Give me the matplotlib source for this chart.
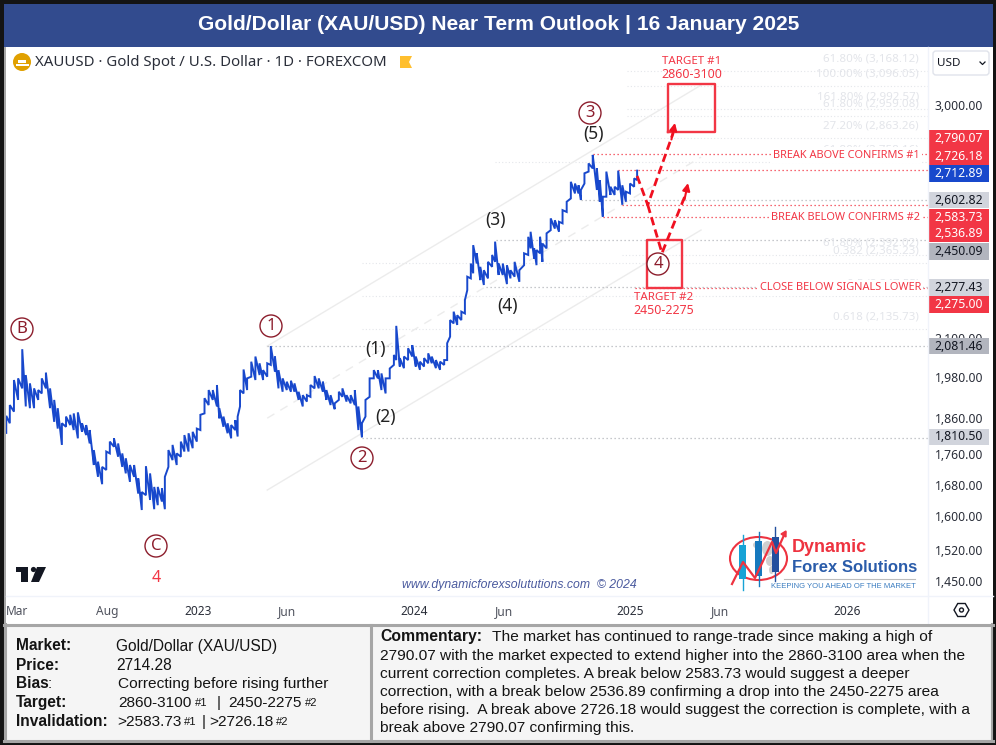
import datetime as dt
import matplotlib
matplotlib.use('Agg')
import matplotlib.pyplot as plt
import matplotlib.dates as mdates
import matplotlib.patches as mpatches
import matplotlib.transforms as mtrans
from matplotlib.ticker import NullLocator
import numpy as np

# Price bars (days counted from 1 Jan 2023)
bar_days = [-324, -318, -311, -304, -297, -291, -284, -277, -270, -264, -257, -250, -243, -237, -230, -223,
            -216, -210, -203, -196, -189, -183, -176, -169, -162, -155, -149, -142, -135, -128, -122, -115,
            -108, -101, -95, -88, -81, -74, -68, -61, -56, -50, -43, -36, -29, -23, -16, -9, -2, 4, 11, 18,
            25, 32, 36, 43, 50, 56, 63, 67, 71, 77, 83, 90, 97, 104, 110, 117, 123, 130, 136, 143, 150, 157,
            163, 170, 177, 184, 190, 197, 204, 211, 217, 224, 231, 238, 244, 251, 258, 265, 271, 277, 283,
            290, 297, 304, 310, 317, 324, 331, 335, 341, 348, 355, 362, 368, 375, 382, 389, 395, 402, 409,
            416, 421, 426, 432, 438, 445, 451, 455, 461, 465, 471, 477, 483, 490, 497, 502, 508, 515, 522,
            528, 535, 543, 551, 558, 562, 568, 572, 578, 582, 589, 596, 603, 610, 616, 623, 630, 637, 643,
            647, 653, 660, 667, 674, 679, 684, 690, 697, 704, 710, 717, 723, 730, 737, 742]
bar_lows = [1818, 1845, 1878, 1912, 1946, 1893, 1888, 1888, 1912, 1931, 1946, 1888, 1849, 1830, 1785, 1835,
            1840, 1826, 1803, 1821, 1812, 1789, 1731, 1700, 1681, 1718, 1762, 1780, 1753, 1726, 1709, 1687,
            1700, 1657, 1616, 1653, 1641, 1618, 1628, 1637, 1618, 1726, 1744, 1731, 1753, 1767, 1767, 1776,
            1794, 1826, 1873, 1897, 1912, 1893, 1859, 1835, 1817, 1803, 1826, 1808, 1893, 1931, 1941, 1981,
            1971, 1986, 1971, 1981, 2017, 1996, 1946, 1936, 1941, 1936, 1936, 1912, 1893, 1907, 1921, 1946,
            1946, 1936, 1912, 1897, 1885, 1912, 1921, 1907, 1902, 1897, 1826, 1806, 1864, 1921, 1976, 1976,
            1941, 1931, 1976, 2017, 2032, 2012, 2007, 2032, 2043, 2012, 2002, 2012, 2022, 2022, 2007, 2002,
            2017, 2032, 2106, 2149, 2144, 2160, 2182, 2261, 2302, 2320, 2355, 2296, 2279, 2302, 2343, 2361,
            2314, 2314, 2282, 2302, 2308, 2290, 2349, 2386, 2410, 2373, 2349, 2392, 2361, 2410, 2478, 2484,
            2472, 2504, 2548, 2601, 2621, 2621, 2595, 2661, 2710, 2723, 2635, 2588, 2530, 2608, 2615, 2615,
            2635, 2576, 2588, 2621, 2648, 2675]
bar_highs = [1866, 1897, 1971, 1976, 2066, 1986, 1961, 1946, 1941, 1976, 1993, 1946, 1912, 1888, 1845, 1864,
             1869, 1873, 1876, 1845, 1840, 1826, 1771, 1740, 1726, 1767, 1794, 1803, 1789, 1762, 1749, 1731,
             1731, 1696, 1661, 1728, 1709, 1674, 1674, 1670, 1700, 1771, 1785, 1762, 1794, 1812, 1817, 1821,
             1830, 1869, 1917, 1941, 1941, 1956, 1888, 1864, 1845, 1840, 1854, 1864, 1941, 2003, 1976, 2027,
             2043, 2022, 2001, 2022, 2076, 2043, 2001, 1976, 1966, 1969, 1961, 1936, 1926, 1926, 1956, 1983,
             1976, 1966, 1941, 1926, 1902, 1936, 1946, 1926, 1926, 1941, 1893, 1845, 1912, 1976, 2001, 2001,
             1991, 1976, 2006, 2048, 2141, 2038, 2043, 2069, 2079, 2043, 2027, 2038, 2053, 2043, 2032, 2027,
             2032, 2085, 2160, 2188, 2176, 2188, 2227, 2308, 2355, 2422, 2392, 2343, 2331, 2361, 2386, 2435,
             2355, 2355, 2349, 2331, 2361, 2331, 2392, 2453, 2472, 2410, 2404, 2453, 2428, 2466, 2523, 2516,
             2510, 2555, 2588, 2668, 2661, 2654, 2635, 2703, 2744, 2780, 2723, 2675, 2608, 2710, 2648, 2648,
             2714, 2654, 2628, 2661, 2682, 2714]
read_correction = 1.003  # bars were read against the 3,000 label, which sits 2px above its true level

y_ticks = [3000, 2100, 1980, 1860, 1760, 1680, 1600, 1520, 1450]
x_tick_dates = ['2022-03-01', '2022-08-01', '2023-01-01', '2023-06-01', '2024-01-01',
                '2024-06-01', '2025-01-01', '2025-06-01', '2026-01-01']
x_tick_labels = ['Mar', 'Aug', '2023', 'Jun', '2024', 'Jun', '2025', 'Jun', '2026']

# Level lines: price, first day
red_levels = [2790.07, 2726.18, 2583.73, 2536.89, 2275.00]
red_starts = [667, 710, 717, 684, 738]
grey_levels = [2602.82, 2450.09, 2277.43, 2081.46, 1810.50]
grey_starts = [648, 504, 487, 117, 277]
fib_levels = [3168.12, 3096.05, 2992.57, 2959.08, 2863.26, 2758.16, 2392.02, 2365.23, 2247.55, 2135.73]
fib_names = ['61.80%', '100.00%', '161.80%', '61.80%', '27.20%', '61.80%', '61.80%', '0.382', '0.5', '0.618']
fib_starts = [725, 725, 725, 725, 725, 502, 716, 277, 277, 277]

# Channel lines: day, price at both ends
channel_days = [117, 850]
channel_upper = [2082, 3102]
channel_mid = [1865, 2779]
channel_lower = [1671, 2486]

# Projected paths
path1_days = [742, 760, 806]
path1_prices = [2700, 2583, 2928]
path2_days = [760, 784, 828]
path2_prices = [2583, 2400, 2671]

# Target zones: first day, last day, low, high
target1 = [794, 874, 2888, 3105]
target2 = [759, 818, 2275, 2450]

# Price labels on the right scale (value, fill, text colour)
axis_labels = [(2790.07, '#f23645', 'white'), (2726.18, '#f23645', 'white'), (2712.89, '#1848cc', 'white'),
               (2602.82, '#d1d4dc', '#131722'), (2583.73, '#f23645', 'white'), (2536.89, '#f23645', 'white'),
               (2450.09, '#b2b5be', '#131722'), (2277.43, '#d1d4dc', '#131722'), (2275.00, '#f23645', 'white'),
               (2081.46, '#b2b5be', '#131722'), (1810.50, '#d1d4dc', '#131722')]
axis_label_tops = [130, 147, 165, 192, 209, 225, 243, 279, 296, 338, 429]
axis_label_heights = [17, 18, 17, 16, 17, 17, 17, 17, 17, 16, 16]

RED = '#f23645'
DARKRED = '#8c1d2c'
TV_FONT = 'Noto Sans'
BOX_FONT = 'Liberation Sans'

base = dt.datetime(2023, 1, 1)
base_num = mdates.date2num(base)


def to_x(days):
    return base_num + np.asarray(days, dtype=float)


def px_day(x):
    return (x - 198) / 0.5918


def px_price(y):
    return 3000 * np.exp(-(y - 107) / 654.6)


fig = plt.figure(figsize=(9.96, 7.45), dpi=100)
fig.patch.set_facecolor('white')

ax = fig.add_axes([5 / 996, (745 - 596) / 745, 923 / 996, 549 / 745])
ax.set_zorder(1)
ax.set_yscale('log')
ax.set_xlim(to_x(px_day(5)), to_x(px_day(928)))
ax.set_ylim(px_price(596), px_price(47))
for s in ax.spines.values():
    s.set_visible(False)

# Fibonacci levels, very faint
for lev, name, start in zip(fib_levels, fib_names, fib_starts):
    ax.plot(to_x([start, 1240]), [lev, lev], color='#e4e6ea', lw=0.8, ls=(0, (1, 2)))
    ax.annotate(f'{name} ({lev:,.2f})', xy=(to_x(px_day(919)), lev), xytext=(0, 8.6),
                textcoords='offset points', ha='right', va='center', color='#e3e5ea',
                fontsize=8.3, family=TV_FONT)

# Channel
ax.plot(to_x(channel_days), channel_upper, color='#ececec', lw=1)
ax.plot(to_x(channel_days), channel_mid, color='#ececec', lw=1, ls=(0, (6, 5)))
ax.plot(to_x(channel_days), channel_lower, color='#ececec', lw=1)

for lev, start in zip(grey_levels, grey_starts):
    ax.plot(to_x([start, 1240]), [lev, lev], color='#b4b6bc', lw=0.9, ls=(0, (1, 2.2)))
for lev, start in zip(red_levels, red_starts):
    ax.plot(to_x([start, 1240]), [lev, lev], color=RED, lw=0.9, ls=(0, (1, 2.2)))

# Price bars joined into one line
x_bars = np.repeat(to_x(bar_days), 2)
y_bars = np.column_stack([bar_lows, bar_highs]).ravel() * read_correction
ax.plot(x_bars, y_bars, color='#1848cc', lw=1.4, solid_joinstyle='miter')

# Target zones
for zone in (target1, target2):
    ax.plot(to_x([zone[0], zone[1], zone[1], zone[0], zone[0]]),
            [zone[2], zone[2], zone[3], zone[3], zone[2]], color=RED, lw=1.7)

# Projected paths
for days, prices in ((path1_days, path1_prices), (path2_days, path2_prices)):
    ax.plot(to_x(days[:-1] + [days[-1] - 3]), prices[:-1] + [prices[-1] * 0.985], color='#f01020', lw=2,
            ls=(0, (3, 1.6)))
    ax.annotate('', xy=(to_x(days[-1]), prices[-1]), xytext=(to_x(days[-1] - 6), prices[-1] * 0.975),
                arrowprops=dict(arrowstyle='-|>', color='#f01020', lw=1.5, mutation_scale=11,
                                shrinkA=0, shrinkB=0))

# Axis ticks
ax.yaxis.tick_right()
ax.yaxis.set_minor_locator(NullLocator())
ax.set_yticks(y_ticks)
ax.set_yticklabels([f'{v:,.2f}' for v in y_ticks])
ax.tick_params(axis='y', which='both', length=0, pad=39.6, labelsize=8.8, colors='#2a2e39')
up2 = mtrans.ScaledTranslation(0, 2 / 100, fig.dpi_scale_trans)
for lab in ax.get_yticklabels():
    lab.set_ha('right')
    lab.set_family(TV_FONT)
    lab.set_transform(lab.get_transform() + up2)
ax.set_xticks([mdates.date2num(dt.datetime.fromisoformat(d)) for d in x_tick_dates])
ax.set_xticklabels(x_tick_labels)
ax.tick_params(axis='x', which='both', length=0, pad=6.5, labelsize=8.6, colors='#2a2e39')
for lab in ax.get_xticklabels():
    lab.set_family(TV_FONT)
    if lab.get_text().startswith('20'):
        lab.set_fontweight('bold')
    else:
        lab.set_color('#50535e')

# Everything else is laid out in pixels on a top layer
fg = fig.add_axes([0, 0, 1, 1])
fg.set_zorder(5)
fg.set_xlim(0, 996)
fg.set_ylim(745, 0)
fg.axis('off')


def box(x0, y0, x1, y1, **kw):
    fg.add_patch(mpatches.Rectangle((x0, y0), x1 - x0, y1 - y0, **kw))


# Frame and title band
box(0, 0, 996, 3.5, fc='#141414', lw=0)
box(0, 0, 4, 745, fc='#141414', lw=0)
box(993, 0, 996, 745, fc='#141414', lw=0)
box(0, 741, 996, 745, fc='#141414', lw=0)
box(4, 3.5, 993, 47, fc='#324b8e', lw=0)
box(4, 47, 6, 624, fc='#a6a6a6', lw=0)
fg.plot([928, 928], [47, 624], color='#f0f3fa', lw=1)
fg.plot([6, 993], [596, 596], color='#f0f3fa', lw=1)
fg.text(498.5, 24.5, 'Gold/Dollar (XAU/USD) Near Term Outlook | 16 January 2025', color='white',
        family=BOX_FONT, fontweight='bold', fontsize=15.1, ha='center', va='center')

# Symbol header
fg.add_patch(mpatches.Circle((22, 62), 9, fc='#e0a000', lw=0))
box(18, 60, 26, 62.5, fc='white', lw=0)
box(15.5, 63.5, 28.5, 66, fc='white', lw=0)
fg.text(35, 62.5, 'XAUUSD · Gold Spot / U.S. Dollar · 1D · FOREXCOM', color='#2a2e39', family=TV_FONT,
        fontsize=10.8, ha='left', va='center')
fg.add_patch(mpatches.Polygon([(400, 56), (412, 56), (409, 62), (412, 68), (400, 68)], fc='#ffbf2e', lw=0))

# USD box
fg.add_patch(mpatches.FancyBboxPatch((933, 51), 56, 24, boxstyle='round,pad=0,rounding_size=3',
                                     fc='white', ec='#e0e3eb', lw=1))
fg.text(937, 63, 'USD', color='#131722', family=TV_FONT, fontsize=8.4, ha='left', va='center')
fg.plot([980, 982.5, 985], [62, 64.5, 62], color='#131722', lw=0.9)

# Price labels
for (val, fill, col), top, h in zip(axis_labels, axis_label_tops, axis_label_heights):
    box(929, top, 989, top + h, fc=fill, lw=0)
    fg.text(983, top + h / 2, f'{val:,.2f}', color=col, family=TV_FONT, fontsize=8.8, ha='right', va='center',
            fontweight='bold' if col == 'white' else 'normal')

# Red captions
for x, y, s in [(920, 155, 'BREAK ABOVE CONFIRMS #1'), (920, 217, 'BREAK BELOW CONFIRMS #2'),
                (921, 288, 'CLOSE BELOW SIGNALS LOWER')]:
    fg.text(x, y, s, color=RED, family=TV_FONT, fontsize=7.9, ha='right', va='center',
            bbox=dict(fc='white', ec='none', pad=1.6))
fg.text(692, 62, 'TARGET #1', color=RED, family=TV_FONT, fontsize=8.3, ha='center', va='center')
fg.text(692, 74, '2860-3100', color=RED, family=TV_FONT, fontsize=8.9, ha='center', va='center')
fg.text(664, 298, 'TARGET #2', color=RED, family=TV_FONT, fontsize=8.3, ha='center', va='center')
fg.text(664, 310, '2450-2275', color=RED, family=TV_FONT, fontsize=8.9, ha='center', va='center')

# Wave labels
for x, y, s in [(22, 329, 'B'), (271, 326, '1'), (362, 458, '2'), (156, 546, 'C'), (590, 113, '3'), (658, 264, '4')]:
    fg.add_patch(mpatches.Circle((x, y), 11, fc='white', ec=DARKRED, lw=1))
    fg.text(x, y, s, color=DARKRED, family=TV_FONT, fontsize=12, ha='center', va='center')
for x, y, s in [(376, 349, '(1)'), (385, 417, '(2)'), (496, 220, '(3)'), (507, 306, '(4)'), (593, 134, '(5)')]:
    fg.text(x, y, s, color='#222222', family=TV_FONT, fontsize=12.5, ha='center', va='center')
fg.text(156, 578, '4', color=RED, family=TV_FONT, fontsize=11.5, ha='center', va='center')

# TradingView mark
fg.add_patch(mpatches.Polygon([(16, 567), (28, 567), (28, 582), (21, 582), (21, 572), (16, 572)], fc='#131722', lw=0))
fg.add_patch(mpatches.Circle((33.5, 569.5), 2.6, fc='#131722', lw=0))
fg.add_patch(mpatches.Polygon([(37, 567), (46, 567), (39, 582), (31, 582)], fc='#131722', lw=0))

# Settings hexagon
fg.add_patch(mpatches.RegularPolygon((961.5, 610), 6, radius=7.5, orientation=np.pi / 6, fc='white', ec='#131722', lw=1))
fg.add_patch(mpatches.Circle((961.5, 610), 2, fc='white', ec='#131722', lw=1))

# Website and logo
fg.text(402, 585, 'www.dynamicforexsolututions.com  © 2024', color='#4a5a9e', family=BOX_FONT, style='italic',
        fontsize=8.8, ha='left', va='center')
fg.add_patch(mpatches.Ellipse((758.5, 558.5), 57, 43, fc='none', ec='#ee3340', lw=1.5))
for px, py, w, h in [(762, 541, 11, 15), (766, 556, 8, 10), (769, 566, 5, 8), (753, 542, 6, 6)]:
    fg.add_patch(mpatches.Ellipse((px + w / 2, py + h / 2), w, h, fc='#cfcfcf', lw=0))
for cx, low, high, x0, x1, y0, y1, col in [(742.5, 590, 535, 739, 746, 545, 579, '#17a3d6'),
                                           (758.5, 586, 532, 755, 762, 541, 576, '#1679be'),
                                           (775, 581, 527, 771.5, 778.5, 537, 572, '#234f9e')]:
    fg.plot([cx, cx], [low, high], color=col, lw=1)
    box(x0, y0, x1, y1, fc=col, lw=0)
fg.plot([732, 743, 755, 772, 776, 785], [584, 562, 578, 542, 553, 533], color='#ee3340', lw=1.6)
fg.add_patch(mpatches.Polygon([(786, 531), (781, 534), (786, 537)], fc='#ee3340', ec='#ee3340', lw=1))
fg.text(792, 547, 'Dynamic', color='#ee3340', family=BOX_FONT, fontweight='bold', fontsize=13, ha='left', va='center')
fg.text(792, 567, 'Forex Solutions', color='#2a5caa', family=BOX_FONT, fontweight='bold', fontsize=12, ha='left', va='center')
fg.plot([784, 915], [578.5, 578.5], color='#bdbdbd', lw=0.8)
fg.text(916, 586, 'KEEPING YOU AHEAD OF THE MARKET', color='#3a7cc0', family=BOX_FONT, fontsize=5.5, ha='right', va='center')

# Info panels
box(4, 624, 993, 741, fc='#f5f5f5', ec='none')
fg.plot([4, 993], [625, 625], color='#a6a6a6', lw=2.2)
fg.plot([4, 993], [741, 741], color='#a6a6a6', lw=2.2)
fg.plot([371, 371], [625, 741], color='#a6a6a6', lw=2.2)
fg.plot([5, 5], [624, 741], color='#a6a6a6', lw=2.2)
fg.plot([992, 992], [624, 741], color='#a6a6a6', lw=1.5)

panel = dict(family=BOX_FONT, va='center', color='#141414')
for y, s in [(646, 'Market:'), (665, 'Price:'), (703, 'Target:'), (722, 'Invalidation:')]:
    fg.text(16, y, s, fontweight='bold', fontsize=11.2, **panel)
fg.text(16, 684, 'Bias', fontweight='bold', fontsize=11.2, **panel)
fg.text(48, 684, ':', fontsize=11, **panel)
fg.text(116.5, 646, 'Gold/Dollar (XAU/USD)', fontsize=11.2, **panel)
fg.text(116.5, 665, '2714.28', fontsize=11.2, **panel)
fg.text(118, 684, 'Correcting before rising further', fontsize=11.15, **panel)
for x, s, size in [(118, '2860-3100', 11.1), (194.5, '#1', 8), (217, '|', 11.1), (228, '2450-2275', 11.1), (305, '#2', 8)]:
    fg.text(x, 703, s, fontsize=size, **panel)
for x, s, size in [(117, '>2583.73', 11.1), (184, '#1', 8), (202, '|', 11.1), (209, '>2726.18', 11.1), (276, '#2', 8)]:
    fg.text(x, 722, s, fontsize=size, **panel)

fg.text(380, 637, 'Commentary:', fontweight='bold', fontsize=11.3, **panel)
fg.text(491.5, 637, 'The market has continued to range-trade since making a high of', fontsize=11.15, **panel)
comment_lines = ['2790.07 with the market expected to extend higher into the 2860-3100 area when the',
                 'current correction completes. A break below 2583.73 would suggest a deeper',
                 'correction, with a break below 2536.89 confirming a drop into the 2450-2275 area',
                 'before rising.  A break above 2726.18 would suggest the correction is complete, with a',
                 'break above 2790.07 confirming this.']
for y, s in zip([656, 674, 692, 710, 728], comment_lines):
    fg.text(380, y, s, fontsize=11.15, **panel)

fig.savefig('out.png', dpi=100)
